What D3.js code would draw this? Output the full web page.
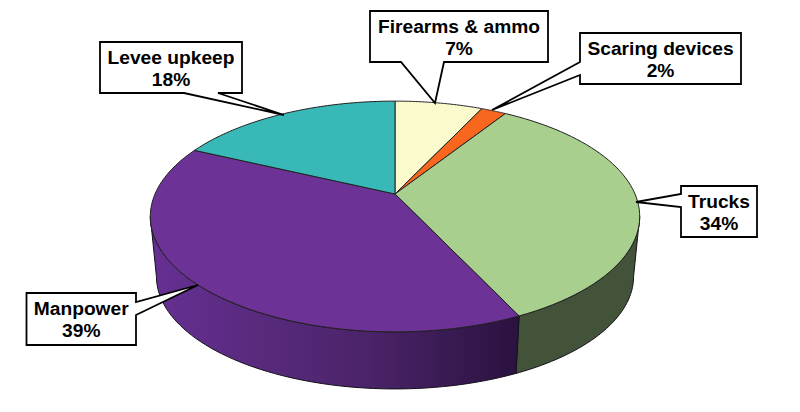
<!DOCTYPE html>
<html><head><meta charset="utf-8">
<script src="https://cdn.jsdelivr.net/npm/d3@7"></script>
<style>html,body{margin:0;background:#fff}svg{display:block}text{font-family:"Liberation Sans",Arial,sans-serif;font-weight:700;font-size:19.2px;fill:#000;text-anchor:middle}</style>
</head><body><svg id="c" width="800" height="412"></svg>
<script>
const categories = ["Firearms & ammo","Scaring devices","Trucks","Manpower","Levee upkeep"];
const shares = [7,2,34,39,18];
const topColors = ["#fafacd","#f9661e","#a9cf8f","#6d3296","#38b8b6"];

// Layout of the tilted disc and of the callouts
const cx=395, apexY=194, R=240, B=111, K=0.195, baseApexY=254.5, baseScale=0.975;
const callouts = [
  {box:[370,11,548,62], tail:[[444,62],[435,103],[401,62]], side:"b"},
  {box:[580,33,741,84], tail:[[580,75],[492,110],[580,62]], side:"l"},
  {box:[681,186,757,237], tail:[[681,207],[636,202],[681,194]], side:"l"},
  {box:[26.5,293,136,345], tail:[[136,302],[198,285],[136,315]], side:"r"},
  {box:[100,42,242,93], tail:[[218,93],[284,115],[184,93]], side:"b"}
];

const svg=d3.select("#c");
const pie=d3.pie().sort(null).value(d=>d).startAngle(0).endAngle(2*Math.PI);
const arcs=pie(shares);

function project(a){ // perspective view of a clockwise angle measured from the top
  const w=1+K*Math.cos(a);
  return [R*Math.sin(a)/w, -B*Math.cos(a)/w];
}
const topPt=a=>{const p=project(a);return [cx+p[0],apexY+p[1]];};
const basePt=a=>{const p=project(a);return [cx+baseScale*p[0],baseApexY+baseScale*p[1]];};
const sweep=(a0,a1,n=60)=>d3.range(0,n+1).map(i=>a0+(a1-a0)*i/n);
const line=d3.line();
const extreme=Math.acos(-K); // rim angle of the widest silhouette point

// Side walls: each runs from the widest silhouette point to the slice boundary at the front
const defs=svg.append("defs");
const grad=defs.append("linearGradient").attr("id","wall").attr("gradientUnits","userSpaceOnUse")
  .attr("x1",150).attr("x2",517).attr("y1",0).attr("y2",0);
[[0,"#663093"],[0.3,"#582a7d"],[0.6,"#4a2368"],[1,"#2b1240"]].forEach(s=>grad.append("stop").attr("offset",s[0]).attr("stop-color",s[1]));
const wallFill={2:"#43533a",3:"url(#wall)"};
[[2,extreme,arcs[2].endAngle],[3,arcs[3].startAngle,2*Math.PI-extreme]].forEach(([i,a0,a1])=>{
  const ang=sweep(a0,a1);
  const pts=ang.map(topPt).concat(ang.slice().reverse().map(basePt));
  svg.append("path").attr("d",line(pts)+"Z").attr("fill",wallFill[i])
    .attr("stroke","#14101a").attr("stroke-width",1).attr("stroke-linejoin","round");
});

// Top surface
arcs.forEach((d,i)=>{
  const pts=[[cx,apexY]].concat(sweep(d.startAngle,d.endAngle).map(topPt));
  svg.append("path").attr("d",line(pts)+"Z").attr("fill",topColors[i])
    .attr("stroke","#222").attr("stroke-width",1).attr("stroke-linejoin","round");
});

// Callouts
callouts.forEach((c,i)=>{
  const [x0,y0,x1,y1]=c.box;
  let pts;
  if(c.side==="b") pts=[[x0,y0],[x1,y0],[x1,y1],...c.tail,[x0,y1]];
  if(c.side==="l") pts=[[x0,y0],[x1,y0],[x1,y1],[x0,y1],...c.tail];
  if(c.side==="r") pts=[[x0,y0],[x1,y0],...c.tail,[x1,y1],[x0,y1]];
  svg.append("path").attr("d",line(pts)+"Z").attr("fill","#fff").attr("stroke","#000")
    .attr("stroke-width",1.8).attr("stroke-linejoin","miter");
  const t=svg.append("text").attr("x",(x0+x1)/2).attr("y",y0+21.5);
  t.append("tspan").attr("x",(x0+x1)/2).text(categories[i]);
  t.append("tspan").attr("x",(x0+x1)/2).attr("dy",22.5).text(shares[i]+"%");
});
</script></body></html>
